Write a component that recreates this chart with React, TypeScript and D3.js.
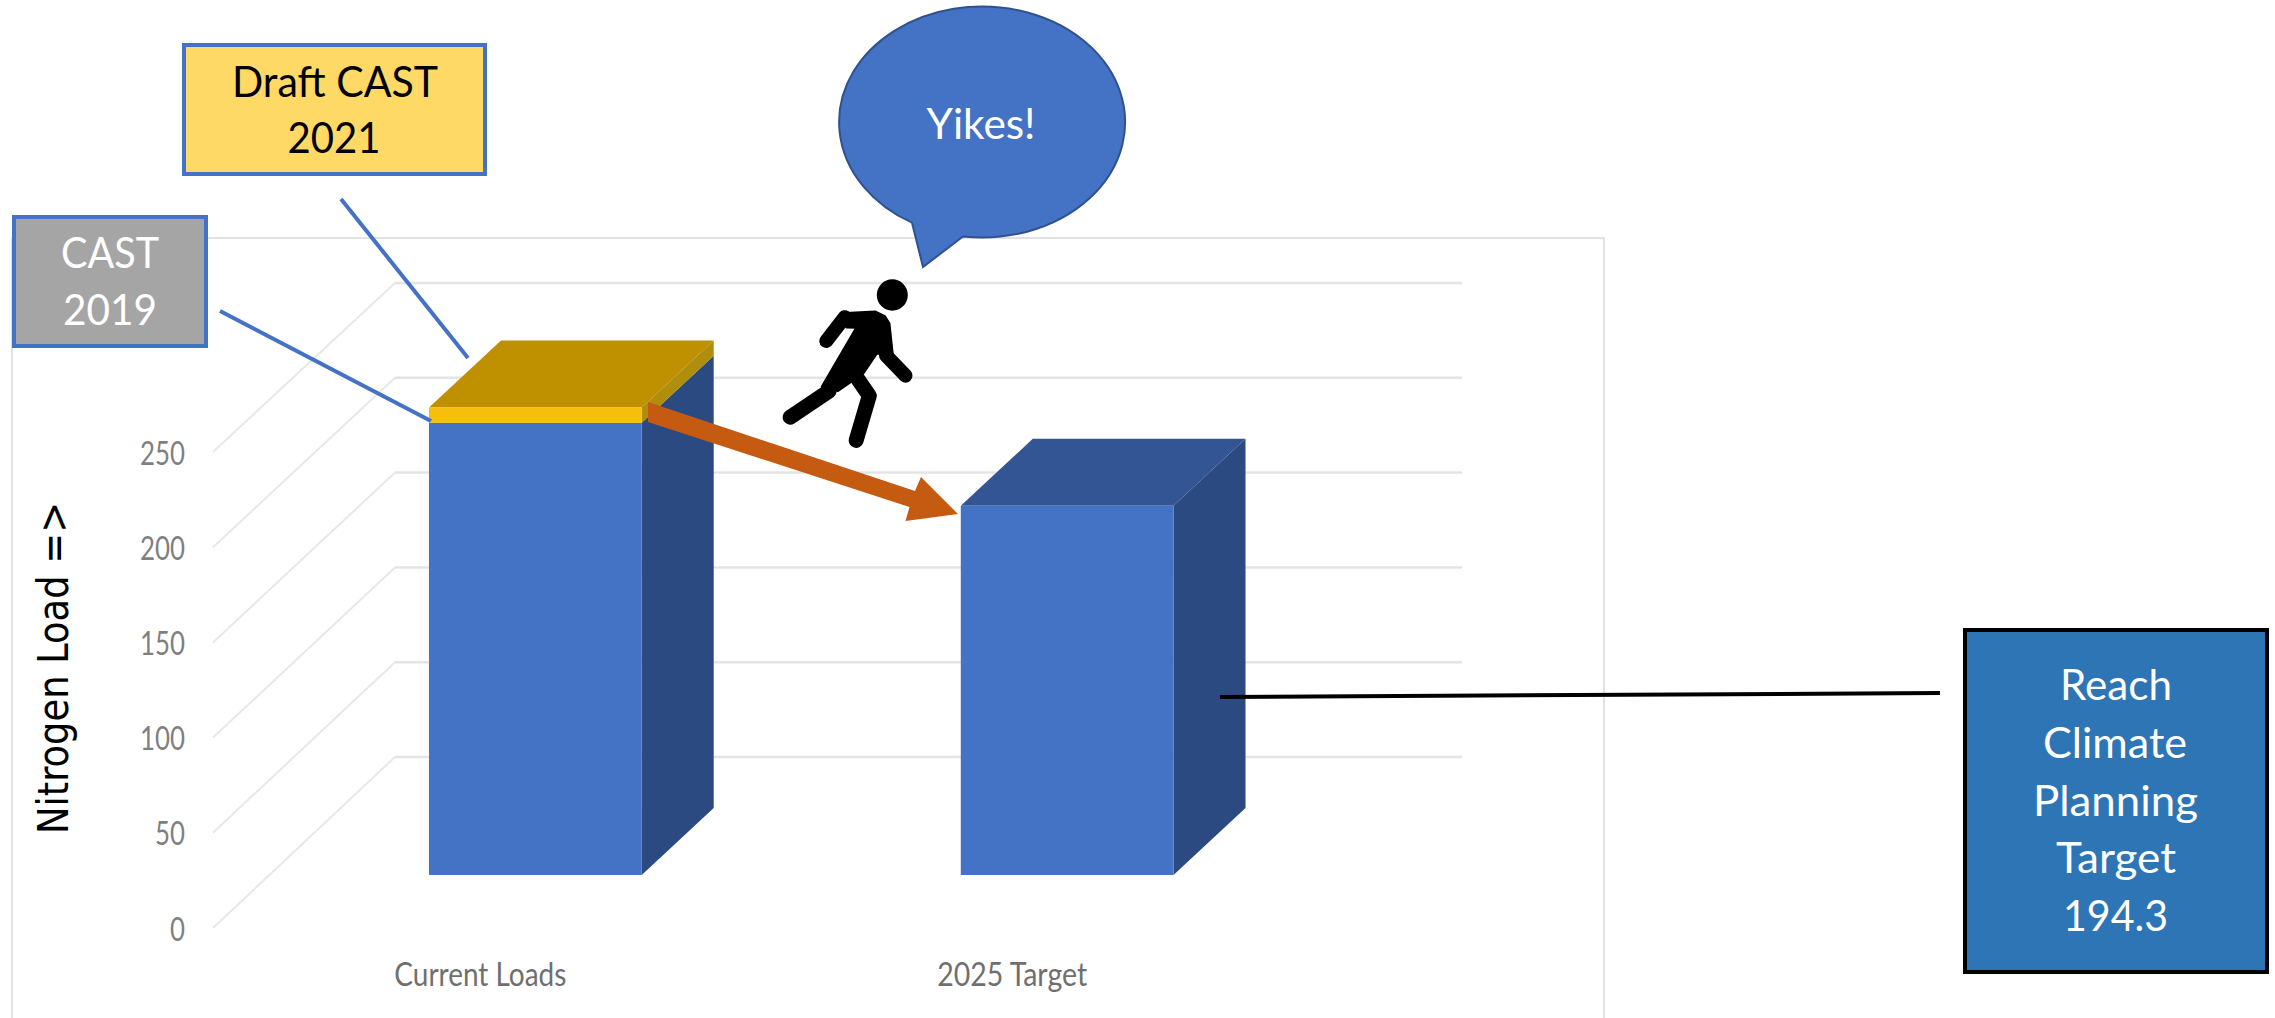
import React from "react";
import * as d3 from "d3";

const categories = ["Current Loads", "2025 Target"];
const cast2019 = [238, 194.3];
const draftIncrease = [8, 0];
const yTicks = [0, 50, 100, 150, 200, 250];
const yAxisTitle = "Nitrogen Load =>";

// Person pictogram parts, in its own local drawing units
const personTorso: [number, number][] = [
  [245, 877], [305, 872], [322, 885], [330, 905], [336, 995], [308, 990], [285, 1045], [240, 1095], [212, 1083], [272, 918], [255, 917],
];
const personLimbs: { pts: [number, number][]; width: number }[] = [
  { pts: [[252, 888], [220, 955]], width: 14 },
  { pts: [[324, 995], [358, 1052]], width: 14 },
  { pts: [[225, 1095], [157, 1168]], width: 15 },
  { pts: [[268, 1045], [295, 1108], [272, 1233]], width: 15 },
];

const W = 2275;
const H = 1018;
const BLUE = "#4472C4";
const FONT = "Lato, Carlito, sans-serif";

// Scales: value to pixel on the back wall, the front edge of the floor and the bar plane
const backY = d3.scaleLinear().domain([0, 250]).range([757, 283]);
const frontY = d3.scaleLinear().domain([0, 250]).range([928, 452]);
const barY = d3.scaleLinear().domain([0, 250]).range([875, 400]);
const barX = d3.scaleBand<string>().domain(categories).range([429, 1173.5]).paddingInner(0.6).paddingOuter(0);
const personX = d3.scaleLinear().domain([0, 900]).range([700, 1216.6]);
const personY = d3.scaleLinear().domain([0, 560]).range([0, 200]);
const DEPTH_X = 72;
const DEPTH_Y = 67;
const WALL_LEFT = 395;
const WALL_RIGHT = 1462;
const FRONT_LEFT = 213;

const poly = (pts: [number, number][]) => d3.line()(pts) + "Z";
const toPerson = (pts: [number, number][]) => pts.map(([x, y]) => [personX(x), personY(y)] as [number, number]);

function Label(p: {
  x: number; y: number; w: number; size: number; fill: string; anchor?: string; children: string; family?: string;
}) {
  return (
    <text
      x={p.x}
      y={p.y}
      fontSize={p.size}
      fill={p.fill}
      fontFamily={p.family ?? FONT}
      textAnchor={p.anchor ?? "middle"}
      textLength={p.w}
      lengthAdjust="spacingAndGlyphs"
    >
      {p.children}
    </text>
  );
}

function Box3D(p: { x0: number; x1: number; yTop: number; yBot: number; front: string; side: string; top?: string }) {
  const { x0, x1, yTop, yBot, front, side, top } = p;
  return (
    <g>
      {top && <path d={poly([[x0, yTop], [x0 + DEPTH_X, yTop - DEPTH_Y], [x1 + DEPTH_X, yTop - DEPTH_Y], [x1, yTop]])} fill={top} />}
      <path d={poly([[x1, yTop], [x1 + DEPTH_X, yTop - DEPTH_Y], [x1 + DEPTH_X, yBot - DEPTH_Y], [x1, yBot]])} fill={side} />
      <rect x={x0} y={yTop} width={x1 - x0} height={yBot - yTop} fill={front} />
    </g>
  );
}

export default function App() {
  const bw = barX.bandwidth();
  return (
    <svg width={W} height={H} viewBox={`0 0 ${W} ${H}`} style={{ position: "absolute", left: 0, top: 0, display: "block", background: "#fff" }}>
      {/* chart frame */}
      <path d="M12,1018V238H1604V1018" fill="none" stroke="#d9d9d9" strokeWidth={1.5} />

      {/* gridlines */}
      {yTicks.map((t) => (
        <g key={t}>
          <line x1={FRONT_LEFT} y1={frontY(t)} x2={WALL_LEFT} y2={backY(t)} stroke="#e8e8e8" strokeWidth={2} />
          <line x1={WALL_LEFT} y1={backY(t)} x2={WALL_RIGHT} y2={backY(t)} stroke="#e4e4e4" strokeWidth={2.5} />
          <Label x={185} y={frontY(t) + 12.5} w={String(t).length * 15} size={33} fill="#7f7f7f" anchor="end">
            {String(t)}
          </Label>
        </g>
      ))}

      {/* bars */}
      {categories.map((c, i) => {
        const x0 = barX(c)!;
        const x1 = x0 + bw;
        const top = cast2019[i];
        const extra = draftIncrease[i];
        return (
          <g key={c}>
            <Box3D x0={x0} x1={x1} yTop={barY(top)} yBot={barY(0)} front={BLUE} side="#2B4A82" top={extra ? undefined : "#335593"} />
            {extra > 0 && (
              <Box3D x0={x0} x1={x1} yTop={barY(top + extra)} yBot={barY(top)} front="#F7BE0C" side="#B08D0A" top="#BF9000" />
            )}
            <Label x={x0 + bw / 2 - 55} y={986} w={i === 0 ? 172 : 150} size={33} fill="#6f6f6f">
              {c}
            </Label>
          </g>
        );
      })}

      {/* y axis title */}
      <g transform="translate(68,668) rotate(-90)">
        <Label x={0} y={0} w={332} size={42} fill="#000" family="'DejaVu Sans', sans-serif">
          {yAxisTitle}
        </Label>
      </g>

      {/* callout connectors */}
      <line x1={341} y1={199} x2={468} y2={358} stroke={BLUE} strokeWidth={4} />
      <line x1={220} y1={311} x2={431} y2={421} stroke={BLUE} strokeWidth={4} />
      <line x1={1220} y1={697} x2={1940} y2={693} stroke="#000" strokeWidth={4} />

      {/* orange arrow */}
      <path d={poly([[648, 402], [915, 491], [921, 477], [958, 514], [905.5, 521], [909.5, 507], [648, 422]])} fill="#C55A11" />

      {/* Draft CAST box */}
      <rect x={184} y={45} width={301} height={129} fill="#FFD966" stroke={BLUE} strokeWidth={4} />
      <Label x={335} y={97} w={206} size={43} fill="#000">Draft CAST</Label>
      <Label x={334} y={153} w={93} size={43} fill="#000">2021</Label>

      {/* CAST 2019 box */}
      <rect x={14} y={217} width={192} height={129} fill="#A5A5A5" stroke={BLUE} strokeWidth={4} />
      <Label x={110} y={268} w={98} size={43} fill="#fff">CAST</Label>
      <Label x={110} y={325} w={94} size={43} fill="#fff">2019</Label>

      {/* speech bubble */}
      <path d="M912,222.7 A143,115.5 0 1 1 963,236.5 L923,267 Z" fill={BLUE} stroke="#2F528F" strokeWidth={2} />
      <Label x={981} y={139} w={109} size={43} fill="#fff">Yikes!</Label>

      {/* person */}
      <ellipse cx={892.3} cy={295} rx={15.5} ry={15.7} fill="#000" />
      <path d={poly(toPerson(personTorso))} fill="#000" stroke="#000" strokeWidth={2} strokeLinejoin="round" />
      {personLimbs.map((l, i) => (
        <path key={i} d={d3.line()(toPerson(l.pts))!} fill="none" stroke="#000" strokeWidth={l.width} strokeLinecap="round" strokeLinejoin="round" />
      ))}

      {/* target box */}
      <rect x={1965} y={630} width={302} height={342} fill="#2E75B6" stroke="#000" strokeWidth={4} />
      <Label x={2116} y={700} w={112} size={43} fill="#fff">Reach</Label>
      <Label x={2115} y={758} w={144} size={43} fill="#fff">Climate</Label>
      <Label x={2115.5} y={816} w={165} size={43} fill="#fff">Planning</Label>
      <Label x={2116} y={873} w={120} size={43} fill="#fff">Target</Label>
      <Label x={2115.5} y={931} w={105} size={43} fill="#fff">194.3</Label>
    </svg>
  );
}
